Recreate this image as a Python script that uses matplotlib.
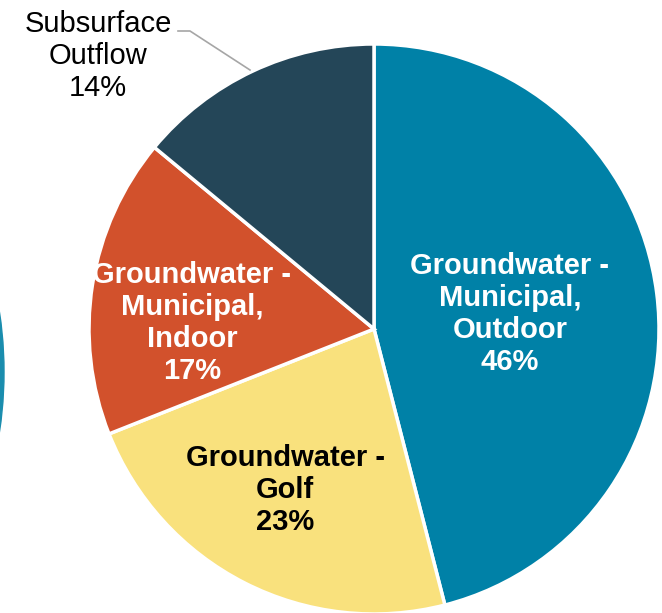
import matplotlib
matplotlib.use("Agg")
import matplotlib.pyplot as plt
from matplotlib.patches import Circle

# ── Datos ──────────────────────────────────────────────────────────
categorias = ["Groundwater -\nMunicipal,\nOutdoor", "Groundwater -\nGolf",
              "Groundwater -\nMunicipal,\nIndoor", "Subsurface\nOutflow"]
porcentajes = [46, 23, 17, 14]
colores = ["#0081A7", "#F9E17D", "#D2512C", "#244658"]
color_texto = ["white", "black", "white", "black"]

W, H = 662, 613
fig = plt.figure(figsize=(W / 100, H / 100), dpi=100, facecolor="white")
ax = fig.add_axes([0, 0, 1, 1])

cx, cy, r = 374, H - 329, 285

# borde del gráfico vecino que asoma por la izquierda
ax.add_patch(Circle((-396, H - 372), 400, color="#1A8DAE", zorder=0))

ax.pie(porcentajes, colors=colores, startangle=90, counterclock=False,
       center=(cx, cy), radius=r, frame=True,
       wedgeprops=dict(edgecolor="white", linewidth=2.5))
ax.set_xlim(0, W)
ax.set_ylim(0, H)
ax.set_aspect("equal")
ax.axis("off")

# posiciones de etiquetas (px desde arriba)
pos = [(510, 314), (285, 490), (192, 323), (98, 56)]
for i, (lab, p) in enumerate(zip(categorias, porcentajes)):
    x, y = pos[i]
    ax.text(x, H - y, f"{lab}\n{p}%", ha="center", va="center",
            color=color_texto[i], fontsize=21, linespacing=1.18,
            fontweight="bold" if i < 3 else "normal",
            family="Liberation Sans")

# línea guía de Subsurface Outflow
ax.plot([178, 190, 250], [H - 31, H - 31, H - 70], color="#A6A6A6", lw=1.2)

fig.savefig("out.png", dpi=100, facecolor="white")
